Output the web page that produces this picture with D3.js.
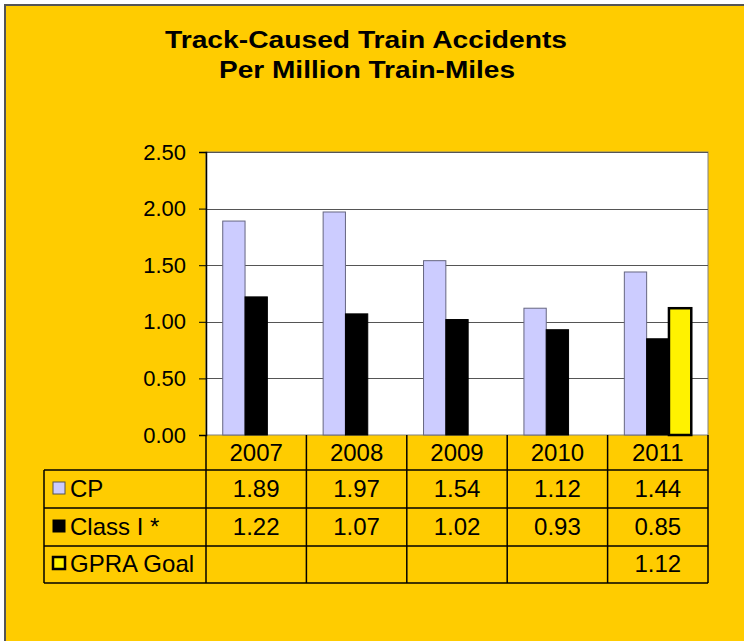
<!DOCTYPE html>
<html>
<head>
<meta charset="utf-8">
<script src="https://cdn.jsdelivr.net/npm/d3@7"></script>
<style>
	html, body { margin: 0; padding: 0; background: #ffffff; }
	svg { display: block; font-family: "Liberation Sans", Arial, sans-serif; }
</style>
</head>
<body>
<div id="chart"></div>
<script>
var years = ["2007", "2008", "2009", "2010", "2011"];
var cpValues = [1.89, 1.97, 1.54, 1.12, 1.44];
var classValues = [1.22, 1.07, 1.02, 0.93, 0.85];
var goalValues = [null, null, null, null, 1.12];
var seriesNames = ["CP", "Class I *", "GPRA Goal"];
var yTicks = [0, 0.5, 1, 1.5, 2, 2.5];

function chart() {
	var width = 744, height = 641;

	var series = [
		{name: seriesNames[0], values: cpValues, fill: "#ccccff", stroke: "#666680", sw: 1},
		{name: seriesNames[1], values: classValues, fill: "#000000", stroke: "#000000", sw: 1},
		{name: seriesNames[2], values: goalValues, fill: "#fff200", stroke: "#000000", sw: 2.5}
	];

	var svg = d3.select("#chart")
		.append("svg")
		.attr("width", width)
		.attr("height", height);

	// gold frame
	svg.append("rect")
		.attr("x", 5)
		.attr("y", 5)
		.attr("width", width + 10)
		.attr("height", height + 10)
		.style("fill", "#ffcc00")
		.style("stroke", "#555555")
		.style("stroke-width", 2);

	svg.append("text")
		.attr("x", 366)
		.attr("y", 48)
		.attr("text-anchor", "middle")
		.attr("textLength", 402)
		.attr("lengthAdjust", "spacingAndGlyphs")
		.style("font-size", "23px")
		.style("font-weight", "bold")
		.text("Track-Caused Train Accidents");

	svg.append("text")
		.attr("x", 367)
		.attr("y", 78)
		.attr("text-anchor", "middle")
		.attr("textLength", 296)
		.attr("lengthAdjust", "spacingAndGlyphs")
		.style("font-size", "23px")
		.style("font-weight", "bold")
		.text("Per Million Train-Miles");

	var x = d3.scaleBand()
		.domain(years)
		.range([206, 708]);

	var xs = d3.scaleBand()
		.domain(seriesNames)
		.range([0, x.bandwidth()])
		.paddingOuter(0.75);

	var y = d3.scaleLinear()
		.domain([0, 2.5])
		.range([435, 152]);

	// plot area
	svg.append("rect")
		.attr("x", x.range()[0])
		.attr("y", y(2.5))
		.attr("width", x.range()[1] - x.range()[0])
		.attr("height", y(0) - y(2.5))
		.style("fill", "#ffffff")
		.style("stroke", "#808080")
		.style("stroke-width", 1);

	svg.append("g")
		.selectAll("line")
		.data(yTicks.slice(1))
		.enter()
		.append("line")
		.attr("x1", x.range()[0])
		.attr("x2", x.range()[1])
		.attr("y1", function (d) { return Math.round(y(d)) + 0.5; })
		.attr("y2", function (d) { return Math.round(y(d)) + 0.5; })
		.style("stroke", "#555555")
		.style("stroke-width", 1);

	series.forEach(function (s) {
		svg.append("g")
			.selectAll("rect")
			.data(years.map(function (yr, i) { return {year: yr, v: s.values[i]}; })
				.filter(function (d) { return d.v !== null; }))
			.enter()
			.append("rect")
			.attr("x", function (d) { return x(d.year) + xs(s.name); })
			.attr("y", function (d) { return y(d.v); })
			.attr("width", xs.bandwidth())
			.attr("height", function (d) { return y(0) - y(d.v); })
			.style("fill", s.fill)
			.style("stroke", s.stroke)
			.style("stroke-width", s.sw);
	});

	var yAxis = svg.append("g")
		.attr("transform", "translate(206,0)")
		.call(d3.axisLeft(y).tickValues(yTicks).tickSize(7).tickPadding(13)
			.tickFormat(d3.format(".2f")));
	yAxis.select(".domain").style("stroke", "#000000").style("stroke-width", 1.5);
	yAxis.selectAll(".tick line").style("stroke", "#000000");
	yAxis.selectAll(".tick text")
		.style("font-size", "22px")
		.style("font-family", "'Liberation Sans', Arial, sans-serif")
		.style("fill", "#000000");

	// data table
	var rowTop = [435, 470, 508, 546, 583];
	var table = svg.append("g").style("stroke", "#000000").style("stroke-width", 1.5);

	years.concat(["end"]).forEach(function (yr, i) {
		var xx = i < years.length ? x(yr) : x.range()[1];
		table.append("line")
			.attr("x1", xx).attr("x2", xx)
			.attr("y1", rowTop[0]).attr("y2", rowTop[4]);
	});
	rowTop.slice(1).forEach(function (ry) {
		table.append("line")
			.attr("x1", 44).attr("x2", x.range()[1])
			.attr("y1", ry).attr("y2", ry);
	});
	table.append("line")
		.attr("x1", 44).attr("x2", 44)
		.attr("y1", rowTop[1]).attr("y2", rowTop[4]);

	svg.append("g")
		.selectAll("text")
		.data(years)
		.enter()
		.append("text")
		.attr("x", function (d) { return x(d) + x.bandwidth() / 2; })
		.attr("y", 461)
		.attr("text-anchor", "middle")
		.style("font-size", "24px")
		.text(function (d) { return d; });

	series.forEach(function (s, r) {
		var baseY = [497, 535, 572][r];
		var key = svg.append("g");
		key.append("rect")
			.attr("x", 53)
			.attr("y", baseY - 15)
			.attr("width", 12)
			.attr("height", 12)
			.style("fill", s.fill)
			.style("stroke", r === 0 ? "#555555" : "#000000")
			.style("stroke-width", r === 2 ? 2.5 : 1);
		key.append("text")
			.attr("x", 70)
			.attr("y", baseY)
			.style("font-size", "24px")
			.text(s.name);

		key.selectAll(".val")
			.data(years.map(function (yr, i) { return {year: yr, v: s.values[i]}; })
				.filter(function (d) { return d.v !== null; }))
			.enter()
			.append("text")
			.attr("class", "val")
			.attr("x", function (d) { return x(d.year) + x.bandwidth() / 2; })
			.attr("y", baseY)
			.attr("text-anchor", "middle")
			.style("font-size", "24px")
			.text(function (d) { return d3.format(".2f")(d.v); });
	});
}

chart();
</script>
</body>
</html>
